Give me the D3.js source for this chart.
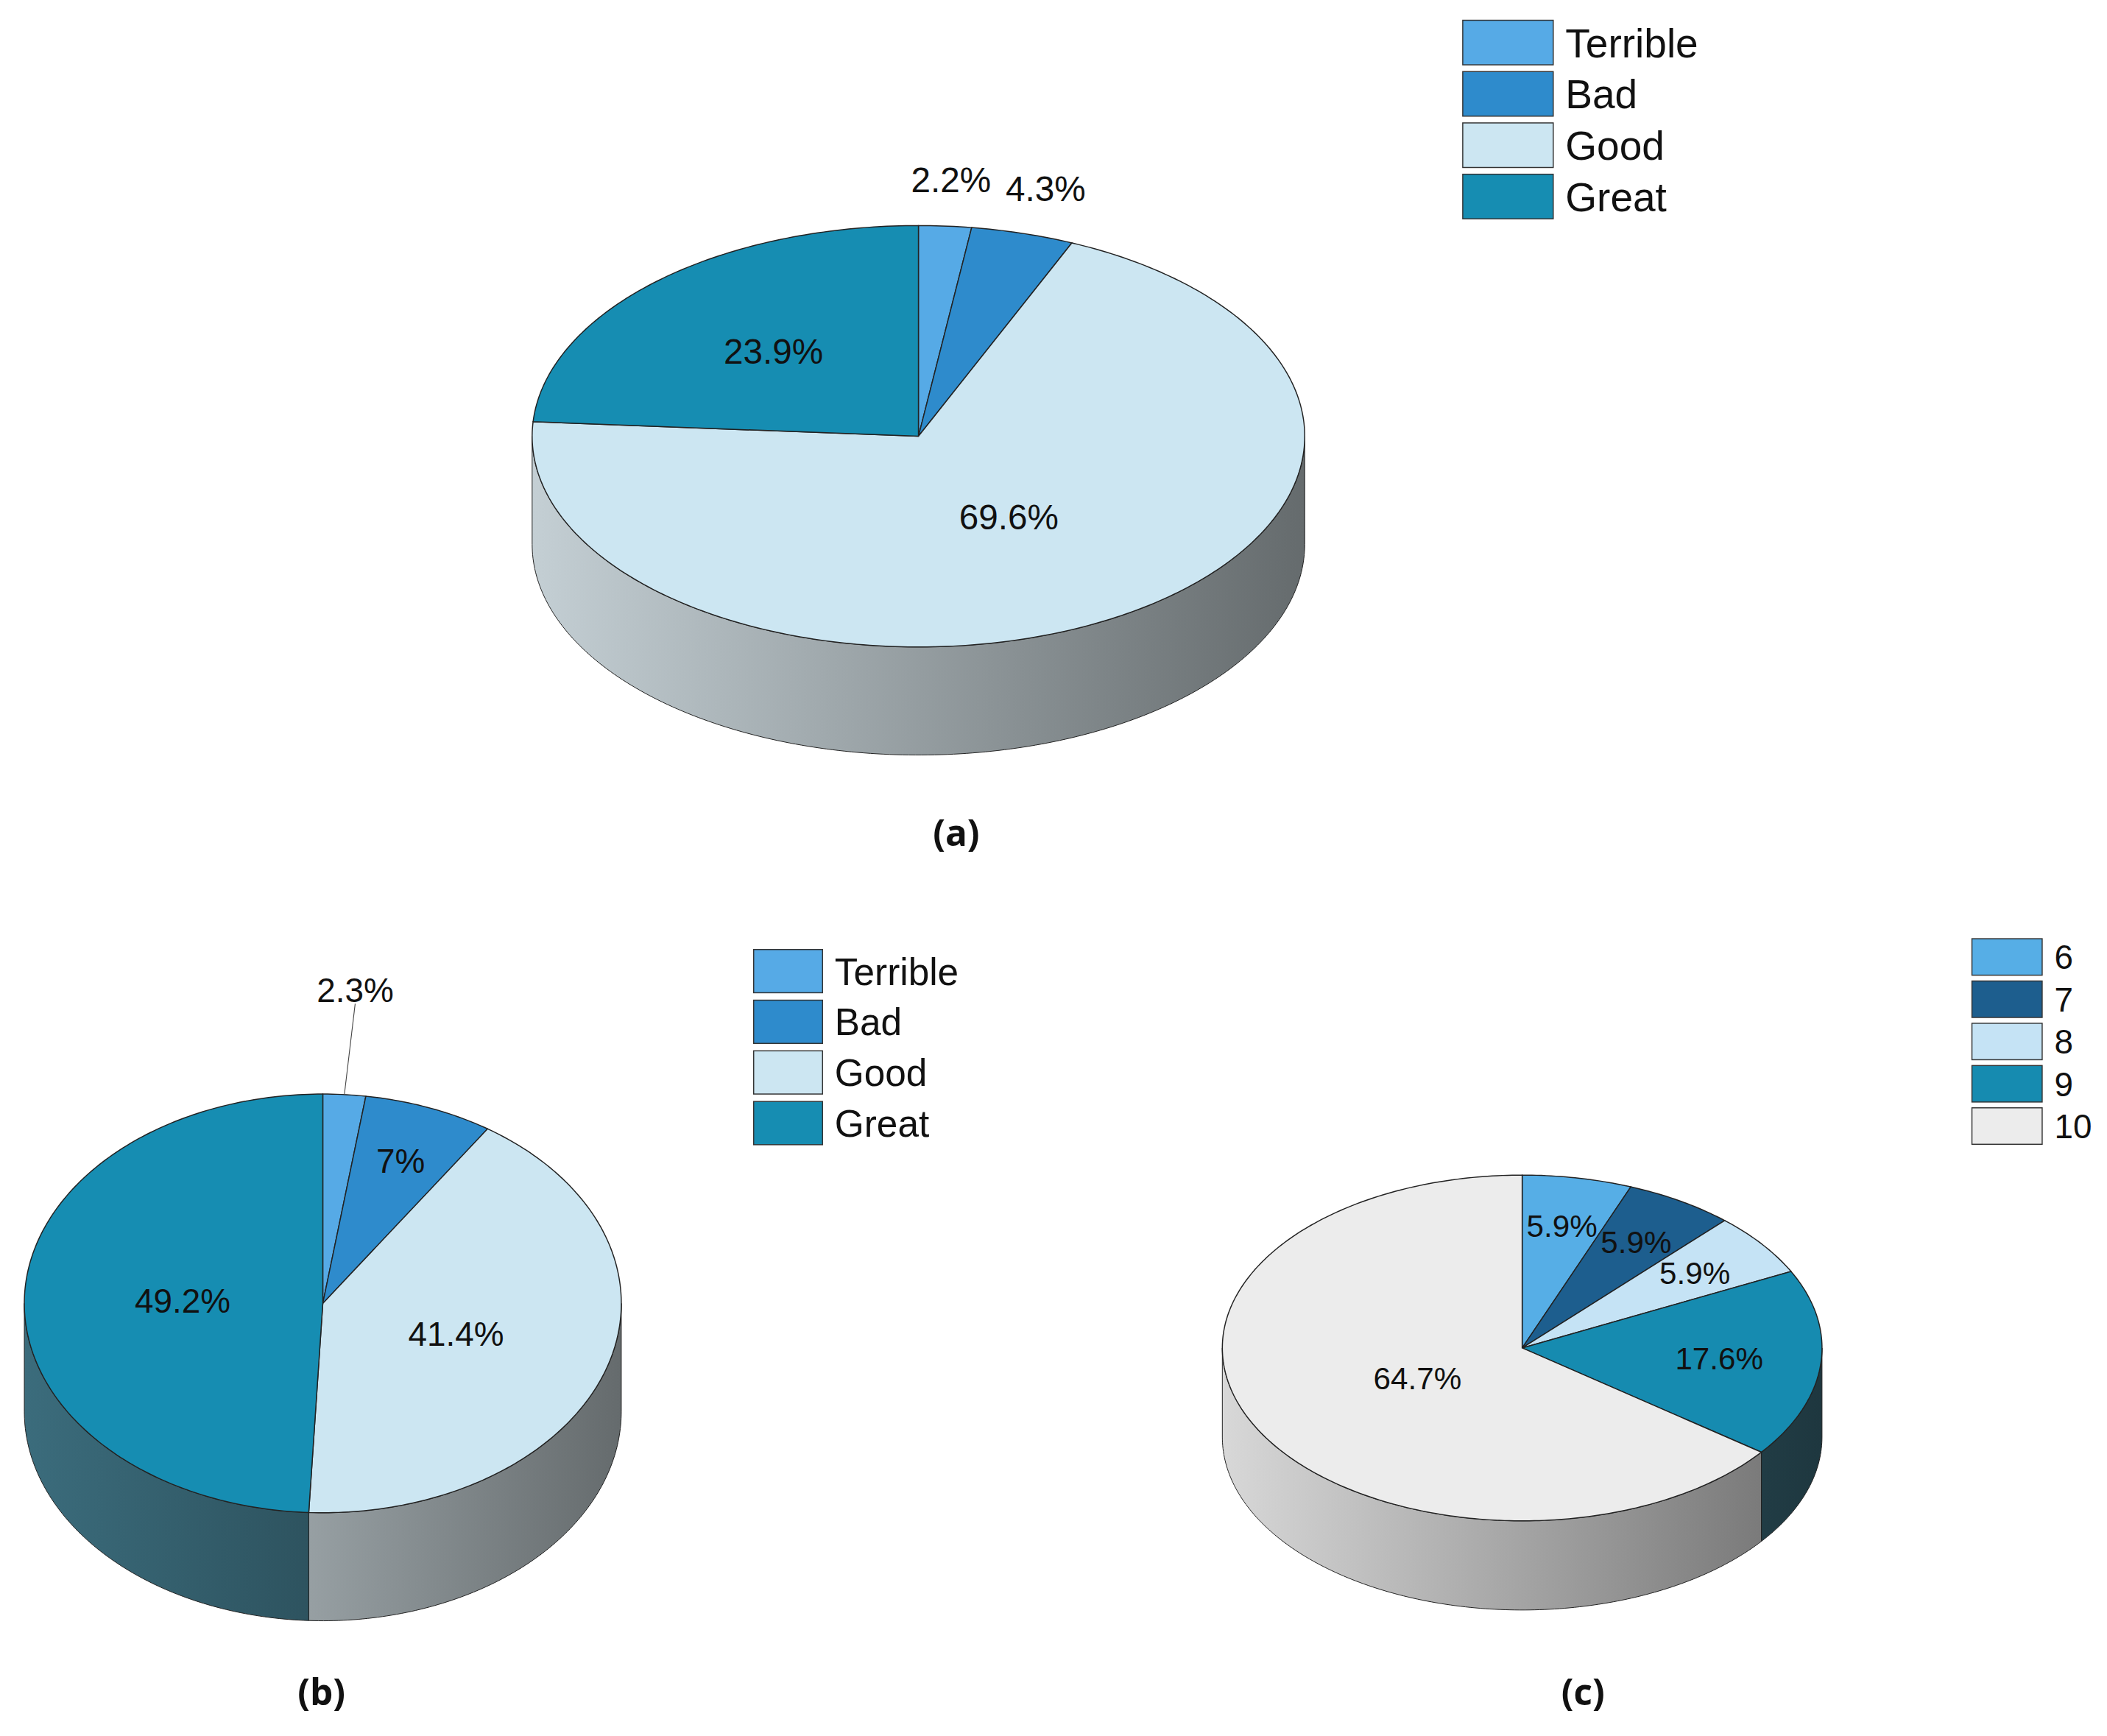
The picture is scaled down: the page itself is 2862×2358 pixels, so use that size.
<!DOCTYPE html>
<html><head><meta charset="utf-8">
<script src="https://cdn.jsdelivr.net/npm/d3@7"></script>
<style>body{margin:0;background:#fff}</style></head>
<body><svg id="c" width="2862" height="2358"></svg>
<script>
const catsA=["Terrible","Bad","Good","Great"], valsA=[2.2,4.3,69.6,23.9];
const catsB=["Terrible","Bad","Good","Great"], valsB=[2.3,7,41.4,49.2];
const catsC=["6","7","8","9","10"], valsC=[5.9,5.9,5.9,17.6,64.7];
const colsABC=["#56aae6","#2e8bcc","#cce6f2","#168db2"];
const colsC=["#56aee6","#1d5e8e","#c5e3f5","#168bb0","#ececec"];

const S=2862/1560;
const svg=d3.select("#c");
const defs=svg.append("defs");
const root=svg.append("g").attr("transform",`scale(${S})`);
let gid=0;

function drawPie(o){
  const color=d3.scaleOrdinal().domain(o.cats).range(o.cols);
  const arcs=d3.pie().sort(null).value(d=>d.v)(o.cats.map((c,i)=>({c,v:o.vals[i]})));
  const {cx,cy,rx,ry,depth}=o;
  const pt=(a,dy=0)=>[cx+rx*Math.sin(a),cy-ry*Math.cos(a)+dy];
  const samp=(a0,a1,dy=0)=>{const n=Math.max(2,Math.ceil((a1-a0)*60));return d3.range(n+1).map(k=>pt(a0+(a1-a0)*k/n,dy));};
  const g=root.append("g");
  const line=d3.line();
  // walls
  arcs.forEach(d=>{
    const lo=Math.max(d.startAngle,Math.PI/2), hi=Math.min(d.endAngle,3*Math.PI/2);
    if(hi<=lo) return;
    const c=color(d.data.c), id="gr"+(gid++);
    const lg=defs.append("linearGradient").attr("id",id).attr("gradientUnits","userSpaceOnUse")
      .attr("x1",(cx-rx)*S).attr("x2",(cx+rx)*S).attr("y1",0).attr("y2",0);
    const base=d3.hsl(c); base.s*=0.45;
    lg.append("stop").attr("offset",0).attr("stop-color",d3.rgb(base).darker(0.25));
    lg.append("stop").attr("offset",1).attr("stop-color",d3.rgb(base).darker(2.1));
    const top=samp(lo,hi), bot=samp(lo,hi,depth).reverse();
    g.append("path").attr("d",line(top.concat(bot))+"Z").attr("fill",`url(#${id})`)
      .attr("stroke","#222").attr("stroke-width",1).attr("transform",`scale(${1/S})`)
      .attr("d",line(top.concat(bot).map(p=>[p[0]*S,p[1]*S]))+"Z");
  });
  // tops
  arcs.forEach(d=>{
    const pts=[[cx,cy]].concat(samp(d.startAngle,d.endAngle));
    g.append("path").attr("d",line(pts)+"Z").attr("fill",color(d.data.c)).attr("stroke","#222").attr("stroke-width",0.8);
  });
  // labels
  arcs.forEach(d=>{
    const m=(d.startAngle+d.endAngle)/2, f=o.lf(d.data.v);
    const p=[cx+rx*f*Math.sin(m),cy-ry*f*Math.cos(m)];
    if(o.leader && f>1){
      const e=pt(m);
      g.append("line").attr("x1",e[0]).attr("y1",e[1]).attr("x2",p[0]).attr("y2",p[1]+10).attr("stroke","#444").attr("stroke-width",0.6);
    }
    g.append("text").attr("x",p[0]).attr("y",p[1]).attr("text-anchor","middle").attr("dy","0.35em")
      .attr("font-family",o.font).attr("font-size",o.fs).attr("fill","#111").text(d3.format("")(d.data.v)+"%");
  });
  // legend
  const lgd=root.append("g");
  o.cats.forEach((c,i)=>{
    const y=o.ly+i*o.lstep;
    lgd.append("rect").attr("x",o.lx).attr("y",y).attr("width",o.lw).attr("height",o.lh).attr("fill",color(c)).attr("stroke","#333").attr("stroke-width",0.8);
    lgd.append("text").attr("x",o.lx+o.lw+9).attr("y",y+o.lh/2).attr("dy","0.36em").attr("font-family",o.font).attr("font-size",o.lfs).attr("fill","#111").text(c);
  });
  root.append("text").attr("x",o.capx).attr("y",o.capy).attr("text-anchor","middle").attr("dy","0.35em")
    .attr("font-family","Open Sans, Lato, sans-serif").attr("font-weight","bold").attr("font-size",27).attr("fill","#111").text(o.cap);
}

drawPie({cats:catsA,vals:valsA,cols:colsABC,cx:680,cy:323,rx:286,ry:156,depth:80,
  lf:v=>v<5?1.22:(v>50?0.45:0.55),font:"Liberation Sans, Arial, sans-serif",fs:26,
  lx:1083,ly:15,lw:67,lh:33,lstep:38,lfs:30,cap:"(a)",capx:708,capy:617});
drawPie({cats:catsB,vals:valsB,cols:colsABC,cx:239,cy:965,rx:221,ry:155,depth:80,leader:true,
  lf:v=>v<5?1.5:(v<10?0.73:0.47),font:"Liberation Sans Narrow, Liberation Sans, sans-serif",fs:25,
  lx:558,ly:703,lw:51,lh:32,lstep:37.5,lfs:28,cap:"(b)",capx:238,capy:1253});
drawPie({cats:catsC,vals:valsC,cols:colsC,cx:1127,cy:998,rx:222,ry:128,depth:66,
  lf:v=>v>50?0.39:(v<10?0.72:0.66),font:"Liberation Sans Narrow, Liberation Sans, sans-serif",fs:23,
  lx:1460,ly:695,lw:52,lh:27,lstep:31.3,lfs:25,cap:"(c)",capx:1172,capy:1253});
</script></body></html>
